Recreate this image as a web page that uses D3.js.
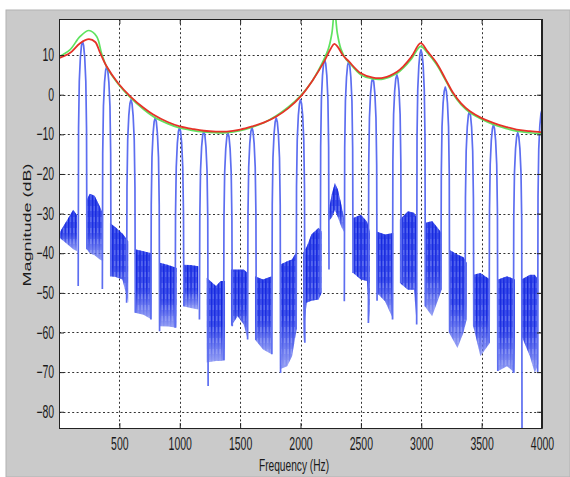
<!DOCTYPE html>
<html><head><meta charset="utf-8">
<script src="https://cdn.jsdelivr.net/npm/d3@7"></script>
<style>html,body{margin:0;padding:0;background:#fff;} svg{display:block;}</style>
</head><body>
<svg id="c" width="570" height="477"></svg>
<script>
// ---------------- DATA ----------------
const xTicks = [500,1000,1500,2000,2500,3000,3500,4000];
const yTicks = [10,0,-10,-20,-30,-40,-50,-60,-70,-80];
const xLabel = "Frequency (Hz)";
const yLabel = "Magnitude (dB)";

// harmonic spikes of the blue spectrum
const harmonicFreq   = [195,395,596,797,998,1199,1399,1598,1799,2000,2200,2399,2598,2798,2998,3199,3399,3598,3799,4000];
const harmonicPeak   = [13.4,7.1,-1.3,-5.8,-8.3,-9.2,-9.6,-8.3,-5.9,-1.3,8.8,8.4,4.2,5.0,11.3,1.9,-4.2,-7.6,-9.6,-3.8];
const harmonicDepthL = [-48.3,-49,-52.5,-56.7,-58.8,-56.7,-67,-61.8,-65.5,-59.2,-50,-52.1,-57.6,-56.7,-58,-49.2,-56.7,-62.6,-70.2,-70];
const harmonicDepthR = [-39,-45.8,-55,-59.7,-53.4,-73.5,-58.4,-61.8,-70.2,-62.6,-44.1,-45,-52,-47.5,-53.4,-60,-58.4,-69.7,-95,null];

// noise floor between harmonics: [segment, freq, top dB, bottom dB]
const noiseBand = [
 [0,0,-35,-36],[0,60,-32,-37.5],[0,118,-29,-39],[0,150,-30.5,-39.5],
 [1,229,-26.5,-39],[1,255,-25,-40],[1,295,-25.5,-40.5],[1,335,-28,-41.5],[1,365,-30,-42],
 [2,422,-32.4,-45.8],[2,470,-33.5,-46],[2,525,-35,-46.6],[2,574,-37,-52.5],
 [3,629,-39,-55],[3,700,-39.5,-55.5],[3,767,-40,-56.7],
 [4,836,-42.4,-58.4],[4,905,-43,-58.5],[4,975,-43.7,-58.8],
 [5,1029,-42.9,-53.4],[5,1090,-43,-53.8],[5,1154,-43.3,-54.2],
 [6,1223,-46.2,-67.6],[6,1300,-48.3,-67.2],[6,1340,-47,-67.2],[6,1375,-47,-67],
 [7,1424,-44.1,-58.4],[7,1480,-44.1,-55.9],[7,1530,-44.1,-58],[7,1562,-45,-61.8],
 [8,1623,-45.8,-61.8],[8,1690,-46.6,-64.3],[8,1761,-45.8,-65.5],
 [9,1830,-42.9,-69.3],[9,1890,-42,-68.5],[9,1930,-41.6,-66],[9,1968,-39.5,-59.2],
 [10,2023,-39.9,-62.6],[10,2050,-38.5,-52.5],[10,2090,-35.3,-52],[10,2150,-33.6,-51.7],[10,2175,-34.5,-50],
 [11,2230,-29.8,-32],[11,2260,-25,-31],[11,2285,-22.3,-29],[11,2310,-24,-31],[11,2340,-28,-33.5],[11,2368,-32.4,-35],
 [12,2437,-31.1,-45],[12,2500,-30.3,-46.6],[12,2550,-32,-47],[12,2575,-34.5,-57.6],
 [13,2631,-34.5,-50],[13,2700,-35.3,-52.1],[13,2768,-34.9,-56.7],
 [14,2823,-31.5,-47.5],[14,2890,-29.4,-49.2],[14,2940,-29.8,-49.2],[14,2962,-31,-58],
 [15,3030,-32.4,-53.4],[15,3090,-31.9,-55.9],[15,3169,-34.9,-49.2],
 [16,3232,-39.1,-60.1],[16,3300,-40.3,-63.9],[16,3350,-41,-60],[16,3376,-42.4,-56.7],
 [17,3431,-45.4,-58.4],[17,3490,-45,-66],[17,3569,-46.6,-62.6],
 [18,3637,-46.6,-69.7],[18,3710,-45.8,-68.5],[18,3776,-46.6,-70.2],
 [19,3831,-46.6,-60.9],[19,3900,-45.4,-66],[19,3940,-45.4,-70.2],[19,3969,-46.6,-68]
];

// envelopes: [freq, dB]
const redEnvelope = [[0,9.2],[90,10.5],[175,13],[248,14],[300,13.3],[340,10.6],[395,7.1],[490,2.9],[590,-0.4],[700,-3.3],[780,-5],[900,-6.9],[1000,-8],[1100,-8.6],[1200,-9.1],[1300,-9.3],[1390,-9.3],[1500,-8.8],[1600,-8.0],[1700,-7.0],[1800,-5.5],[1900,-3.4],[2000,-0.5],[2100,3.6],[2200,8.6],[2250,11.6],[2280,12.8],[2310,12.0],[2350,10.0],[2400,8.4],[2500,5.4],[2600,4.3],[2690,4.3],[2800,5.8],[2850,7.1],[2920,9.6],[2995,13.0],[3050,11.0],[3127,8.0],[3200,4.0],[3265,0.4],[3330,-2.2],[3403,-4.2],[3500,-5.9],[3596,-7.1],[3700,-8.1],[3790,-8.8],[3900,-9.2],[4000,-9.5]];
const greenEnvelope = [[0,9.6],[90,11.3],[175,14.7],[248,16.2],[312,14.7],[353,10.4],[395,7.0],[490,2.7],[590,-0.7],[700,-3.7],[780,-5.5],[900,-7.3],[1000,-8.4],[1100,-9.0],[1200,-9.4],[1300,-9.6],[1390,-9.6],[1500,-9.1],[1600,-8.2],[1700,-7.0],[1800,-5.3],[1900,-3.1],[2000,-0.3],[2100,3.6],[2180,8.0],[2230,11.5],[2260,15.5],[2282,21.5],[2305,15.5],[2335,11.5],[2380,8.8],[2400,8.2],[2500,5.0],[2600,4.0],[2690,4.0],[2800,5.4],[2850,6.7],[2920,9.1],[2995,12.2],[3050,10.6],[3127,7.6],[3200,3.7],[3265,0.1],[3330,-2.5],[3403,-4.5],[3500,-6.2],[3596,-7.5],[3700,-8.5],[3790,-9.2],[3900,-9.6],[4000,-9.9]];

// ---------------- STYLE / LAYOUT ----------------
const M = {l:59, t:19, r:542, b:428};
const FONT = "'Liberation Sans', Arial, Helvetica, sans-serif";
const TICK_FS = 17.5, SX = 0.6;
// spike glyph shape (offset Hz, drop dB below peak); ends use the depth values
const spikeShape = [[-36,null],[-33,-22],[-27,-10],[-18,-4],[-9,-1],[0,0],[9,-1],[18,-4],[27,-10],[33,-22],[36,null]];

const svg = d3.select('#c');
const x = d3.scaleLinear().domain([0,4000]).range([M.l, M.r]);
const y = d3.scaleLinear().domain([-84.1,19.1]).range([M.b, M.t]);

// figure background
svg.append('rect').attr('x',6).attr('y',10).attr('width',564).attr('height',467)
  .attr('fill','#cacaca').attr('stroke','#b2b2b2').attr('stroke-width',1);
svg.append('rect').attr('x',M.l).attr('y',M.t).attr('width',M.r-M.l).attr('height',M.b-M.t).attr('fill','#fff');

const defs = svg.append('defs');
defs.append('clipPath').attr('id','clip').append('rect')
  .attr('x',M.l).attr('y',M.t).attr('width',M.r-M.l).attr('height',M.b-M.t);

const pat = defs.append('pattern').attr('id','noisePat').attr('patternUnits','userSpaceOnUse')
  .attr('width',3.4).attr('height',11);
pat.append('rect').attr('x',0).attr('y',0).attr('width',1.4).attr('height',11).attr('fill','#0f22de');
pat.append('rect').attr('x',2.1).attr('y',2).attr('width',0.8).attr('height',6).attr('fill','#1f31e2');

const g1 = defs.append('linearGradient').attr('id','bandGrad').attr('x1',0).attr('y1',0).attr('x2',0).attr('y2',1);
[[0,0.75],[0.08,1],[0.55,0.95],[0.82,0.4],[1,0.1]].forEach(([o,a])=>g1.append('stop').attr('offset',o).attr('stop-color','#fff').attr('stop-opacity',a));
const mask = defs.append('mask').attr('id','bandMask').attr('maskContentUnits','objectBoundingBox');
mask.append('rect').attr('width',1).attr('height',1).attr('fill','url(#bandGrad)');

const g2 = defs.append('linearGradient').attr('id','baseGrad').attr('x1',0).attr('y1',0).attr('x2',0).attr('y2',1);
[[0,'#4a5cee',1],[0.55,'#5a6bef',0.95],[1,'#7886f2',0.7]].forEach(([o,c,a])=>g2.append('stop').attr('offset',o).attr('stop-color',c).attr('stop-opacity',a));

// grid
const grid = svg.append('g').attr('stroke','#333').attr('stroke-width',1).attr('stroke-dasharray','2,2.4');
grid.selectAll('.gx').data(xTicks.filter(d=>d<4000)).join('line')
  .attr('x1',d=>Math.round(x(d))+0.5).attr('x2',d=>Math.round(x(d))+0.5).attr('y1',M.t).attr('y2',M.b);
grid.selectAll('.gy').data(yTicks).join('line')
  .attr('y1',d=>Math.round(y(d))+0.5).attr('y2',d=>Math.round(y(d))+0.5).attr('x1',M.l).attr('x2',M.r);

const plot = svg.append('g').attr('clip-path','url(#clip)');

// noise band
const bandArea = d3.area().x(d=>x(d[1])).y0(d=>y(d[3])).y1(d=>y(d[2]));
const segs = Array.from(d3.group(noiseBand, d=>d[0]).values());
plot.append('g').selectAll('path').data(segs).join('path').attr('d',bandArea).attr('fill','url(#baseGrad)');
plot.append('g').selectAll('path').data(segs).join('path').attr('d',bandArea)
  .attr('fill','url(#noisePat)').attr('mask','url(#bandMask)');

// harmonic spikes
const spikeLine = d3.line().x(d=>x(d[0])).y(d=>y(d[1]));
const spikes = harmonicFreq.map((f,i)=>spikeShape.map(([off,drop],j)=>{
  let v;
  if (drop===null) v = (j===0 ? harmonicDepthL[i] : harmonicDepthR[i]);
  else v = harmonicPeak[i] + drop;
  return [f+off, v];
}).filter(p=>p[1]!==null && p[0]<=4000));
plot.append('g').selectAll('path').data(spikes).join('path').attr('d',spikeLine)
  .attr('fill','none').attr('stroke','#5d6ef0').attr('stroke-width',1.7).attr('stroke-linejoin','round');

// envelopes
const envLine = d3.line().x(d=>x(d[0])).y(d=>y(d[1])).curve(d3.curveCatmullRom.alpha(0.5));
plot.append('path').attr('d',envLine(greenEnvelope)).attr('fill','none').attr('stroke','#5fe35f').attr('stroke-width',1.7);
plot.append('path').attr('d',envLine(redEnvelope)).attr('fill','none').attr('stroke','#e63228').attr('stroke-width',1.8);

// axes
const styleAxis = g => { g.attr('font-family',FONT).attr('font-size',TICK_FS);
  g.selectAll('.tick line').attr('stroke','#222');
  g.select('.domain').attr('stroke','#222');
  g.selectAll('text').attr('fill','#1a1a1a'); };
svg.append('g').attr('transform',`translate(0,${M.b})`)
  .call(d3.axisBottom(x).tickValues(xTicks).tickSize(-5).tickSizeOuter(0).tickPadding(10).tickFormat(d3.format('d')))
  .call(styleAxis).call(g=>g.selectAll('text').attr('transform',`scale(${SX},1)`));
svg.append('g').attr('transform',`translate(${M.l},0)`)
  .call(d3.axisLeft(y).tickValues(yTicks).tickSize(-5).tickSizeOuter(0).tickPadding(8).tickFormat(d3.format('d')))
  .call(styleAxis).call(g=>g.selectAll('text').attr('transform',`scale(${SX},1)`));
svg.append('g').attr('transform',`translate(0,${M.t})`)
  .call(d3.axisTop(x).tickValues(xTicks).tickSize(-5).tickSizeOuter(0).tickFormat(''))
  .call(styleAxis);
svg.append('g').attr('transform',`translate(${M.r},0)`)
  .call(d3.axisRight(y).tickValues(yTicks).tickSize(-5).tickSizeOuter(0).tickFormat(''))
  .call(styleAxis);
svg.append('rect').attr('x',M.l+0.5).attr('y',M.t+0.5).attr('width',M.r-M.l-1).attr('height',M.b-M.t)
  .attr('fill','none').attr('stroke','#222').attr('stroke-width',1);

// labels
svg.append('text').text(xLabel).attr('font-family',FONT).attr('font-size',17).attr('fill','#1a1a1a')
  .attr('text-anchor','middle').attr('transform','translate(294,471) scale(0.6,1)');
svg.append('text').text(yLabel).attr('font-family',FONT).attr('font-size',18).attr('fill','#1a1a1a')
  .attr('text-anchor','middle').attr('transform','translate(31,225) rotate(-90) scale(1,0.62)');
</script>
</body></html>
